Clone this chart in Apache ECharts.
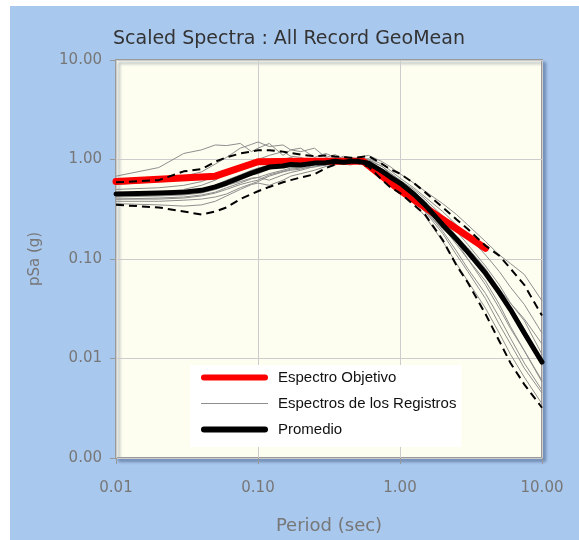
<!DOCTYPE html>
<html>
<head>
<meta charset="utf-8">
<script src="https://cdn.jsdelivr.net/npm/echarts@6/dist/echarts.min.js"></script>
<style>
  html, body { margin: 0; padding: 0; background: #ffffff; }
  #wrap { position: absolute; left: 10px; top: 6px; width: 569px; height: 534px; background: #A9C8EE; }
  #chart { width: 569px; height: 534px; }
</style>
</head>
<body>
<div id="wrap"><div id="chart"></div></div>
<script>
// Periods (sec) shared by the record spectra, mean and ±1 sigma curves
const periods = [0.01, 0.02, 0.03, 0.04, 0.05, 0.06, 0.075, 0.09, 0.1, 0.12, 0.15, 0.17, 0.2, 0.25, 0.3, 0.35, 0.4, 0.45, 0.5, 0.6, 0.75, 0.85, 1.0, 1.25, 1.5, 2.0, 2.5, 3.0, 4.0, 5.0, 6.0, 7.5, 10.0];

// Target spectrum (Espectro Objetivo)
const targetPeriods = [0.01, 0.05, 0.1, 0.2, 0.55, 1.0, 2.0, 4.0];
const targetSa = [0.60, 0.68, 0.95, 0.96, 0.96, 0.49, 0.25, 0.128];

// Geometric mean of the scaled records (Promedio)
const meanSa = [0.45, 0.46, 0.47, 0.49, 0.53, 0.58, 0.66, 0.73, 0.77, 0.84, 0.86, 0.89, 0.88, 0.92, 0.93, 0.96, 0.94, 0.96, 0.96, 0.92, 0.76, 0.67, 0.58, 0.45, 0.35, 0.22, 0.158, 0.118, 0.072, 0.046, 0.031, 0.018, 0.0092];

// Mean plus / minus one standard deviation
const upperSa = [0.59, 0.62, 0.76, 0.80, 0.95, 1.05, 1.15, 1.20, 1.24, 1.24, 1.20, 1.16, 1.12, 1.08, 1.10, 1.07, 1.06, 1.04, 1.05, 1.08, 0.90, 0.80, 0.72, 0.58, 0.47, 0.33, 0.25, 0.20, 0.136, 0.108, 0.080, 0.055, 0.027];
const lowerSa = [0.35, 0.33, 0.30, 0.28, 0.30, 0.33, 0.40, 0.45, 0.48, 0.53, 0.59, 0.62, 0.66, 0.71, 0.82, 0.89, 0.94, 0.95, 0.93, 0.85, 0.62, 0.53, 0.46, 0.35, 0.28, 0.155, 0.086, 0.058, 0.028, 0.015, 0.009, 0.0055, 0.0032];

// Individual scaled record spectra (Espectros de los Registros)
const rec01 = [0.68, 0.83, 1.15, 1.25, 1.40, 1.38, 1.45, 1.20, 1.30, 1.45, 1.10, 1.25, 1.30, 1.05, 1.15, 1.05, 0.95, 0.90, 1.00, 1.00, 0.85, 0.72, 0.62, 0.50, 0.40, 0.27, 0.19, 0.14, 0.085, 0.055, 0.036, 0.024, 0.011];
const rec02 = [0.56, 0.60, 0.68, 0.75, 0.90, 1.05, 1.30, 1.42, 1.50, 1.35, 1.40, 1.25, 1.20, 1.30, 1.05, 1.12, 1.00, 0.95, 1.05, 1.10, 0.95, 0.85, 0.72, 0.58, 0.48, 0.36, 0.28, 0.22, 0.15, 0.11, 0.09, 0.07, 0.038];
const rec03 = [0.45, 0.47, 0.50, 0.55, 0.62, 0.72, 0.85, 0.95, 1.00, 1.10, 1.20, 1.08, 1.05, 0.95, 0.90, 1.02, 1.00, 0.92, 0.98, 0.95, 0.80, 0.70, 0.60, 0.47, 0.38, 0.25, 0.17, 0.13, 0.08, 0.05, 0.033, 0.02, 0.0095];
const rec04 = [0.42, 0.43, 0.44, 0.46, 0.50, 0.55, 0.62, 0.70, 0.72, 0.80, 0.85, 0.90, 0.95, 1.00, 0.92, 0.88, 0.98, 1.05, 1.02, 0.98, 0.85, 0.74, 0.62, 0.45, 0.34, 0.21, 0.14, 0.10, 0.06, 0.035, 0.021, 0.012, 0.006];
const rec05 = [0.40, 0.41, 0.42, 0.44, 0.47, 0.52, 0.58, 0.64, 0.66, 0.72, 0.78, 0.82, 0.84, 0.90, 0.96, 0.90, 0.92, 0.98, 0.95, 0.92, 0.78, 0.66, 0.55, 0.40, 0.30, 0.18, 0.11, 0.075, 0.040, 0.022, 0.014, 0.008, 0.0045];
const rec06 = [0.38, 0.38, 0.39, 0.40, 0.42, 0.45, 0.52, 0.57, 0.60, 0.68, 0.75, 0.78, 0.80, 0.88, 1.00, 0.95, 1.05, 1.00, 0.98, 0.88, 0.70, 0.60, 0.50, 0.38, 0.30, 0.20, 0.15, 0.11, 0.07, 0.05, 0.036, 0.025, 0.014];
const rec07 = [0.46, 0.46, 0.47, 0.50, 0.55, 0.62, 0.70, 0.78, 0.82, 0.88, 0.90, 0.95, 0.88, 0.92, 0.88, 0.96, 0.90, 0.88, 0.95, 0.90, 0.72, 0.64, 0.56, 0.45, 0.36, 0.24, 0.16, 0.12, 0.075, 0.045, 0.029, 0.018, 0.0085];
const rec08 = [0.36, 0.35, 0.34, 0.35, 0.38, 0.43, 0.50, 0.56, 0.58, 0.55, 0.62, 0.68, 0.72, 0.78, 0.85, 0.90, 0.95, 0.90, 0.92, 0.88, 0.66, 0.56, 0.48, 0.36, 0.27, 0.15, 0.09, 0.060, 0.032, 0.018, 0.011, 0.0065, 0.0035];
const rec09 = [0.50, 0.52, 0.55, 0.60, 0.68, 0.75, 0.85, 0.90, 0.92, 0.95, 1.00, 1.05, 0.95, 1.02, 0.98, 1.08, 0.92, 1.00, 1.00, 1.02, 0.90, 0.78, 0.65, 0.52, 0.42, 0.30, 0.22, 0.17, 0.11, 0.075, 0.052, 0.035, 0.018];
const rec10 = [0.44, 0.44, 0.45, 0.47, 0.50, 0.55, 0.60, 0.65, 0.66, 0.62, 0.70, 0.74, 0.78, 0.85, 0.90, 1.00, 1.08, 0.98, 1.00, 0.95, 0.75, 0.64, 0.55, 0.42, 0.32, 0.19, 0.12, 0.08, 0.045, 0.026, 0.016, 0.009, 0.0048];
const rec11 = [0.40, 0.40, 0.41, 0.43, 0.46, 0.50, 0.56, 0.60, 0.62, 0.70, 0.76, 0.80, 0.82, 0.84, 0.88, 0.92, 0.95, 0.93, 0.96, 0.93, 0.80, 0.68, 0.57, 0.43, 0.33, 0.22, 0.15, 0.10, 0.055, 0.032, 0.020, 0.012, 0.0058];
const records = [rec01, rec02, rec03, rec04, rec05, rec06, rec07, rec08, rec09, rec10, rec11];

const NAME_TARGET = 'Espectro Objetivo';
const NAME_RECORDS = 'Espectros de los Registros';
const NAME_MEAN = 'Promedio';

const pairs = (xs, ys) => xs.map((x, i) => [x, ys[i]]);
const fmt2 = v => Number(v).toFixed(2);

// Legend keys: a thick bar with rounded ends and a hairline
const ICON_THICK = 'path://M3,0 H64 A3,3 0 0 1 64,6 H3 A3,3 0 0 1 3,0 Z';
const ICON_THIN = 'path://M0,0 H67 V1.2 H0 Z';

const series = [];
records.forEach(r => {
  series.push({
    name: NAME_RECORDS, type: 'line', data: pairs(periods, r),
    symbol: 'none', z: 2,
    lineStyle: { color: '#8E8E8E', width: 1 },
    itemStyle: { color: '#8E8E8E' }
  });
});
series.push({
  name: NAME_TARGET, type: 'line', data: pairs(targetPeriods, targetSa),
  symbol: 'none', z: 3,
  lineStyle: { color: '#FF0000', width: 7, cap: 'round', join: 'round' },
  itemStyle: { color: '#FF0000' }
});
series.push({
  name: 'Promedio + σ', type: 'line', data: pairs(periods, upperSa),
  symbol: 'none', z: 4,
  lineStyle: { color: '#000000', width: 2, type: [8, 5] }
});
series.push({
  name: 'Promedio - σ', type: 'line', data: pairs(periods, lowerSa),
  symbol: 'none', z: 4,
  lineStyle: { color: '#000000', width: 2, type: [8, 5] }
});
series.push({
  name: NAME_MEAN, type: 'line', data: pairs(periods, meanSa),
  symbol: 'none', z: 5,
  lineStyle: { color: '#000000', width: 5, cap: 'round', join: 'round' },
  itemStyle: { color: '#000000' }
});

const chart = echarts.init(document.getElementById('chart'), null, { renderer: 'canvas' });
chart.setOption({
  animation: false,
  backgroundColor: 'transparent',
  title: {
    text: 'Scaled Spectra : All Record GeoMean',
    left: 103, top: 24, padding: 0,
    textStyle: { fontFamily: 'DejaVu Sans', fontSize: 19, fontWeight: 'normal', color: '#333333' }
  },
  grid: {
    left: 106, top: 54, width: 426, height: 400,
    show: true, backgroundColor: '#FEFEF0',
    borderColor: '#9A9A9A', borderWidth: 2,
    shadowColor: 'rgba(40,60,100,0.35)', shadowBlur: 3, shadowOffsetX: 3, shadowOffsetY: 3
  },
  legend: {
    data: [
      { name: NAME_TARGET, icon: ICON_THICK, itemStyle: { color: '#FF0000', borderWidth: 0 } },
      { name: NAME_RECORDS, icon: ICON_THIN, itemStyle: { color: '#8E8E8E', borderWidth: 0 } },
      { name: NAME_MEAN, icon: ICON_THICK, itemStyle: { color: '#000000', borderWidth: 0 } }
    ],
    orient: 'vertical', left: 180, top: 359,
    backgroundColor: '#FFFFFF',
    padding: [5, 5, 10, 11],
    itemWidth: 67, itemHeight: 18, itemGap: 11,
    selectedMode: false,
    itemStyle: { borderWidth: 0 },
    lineStyle: { width: 0 },
    textStyle: { fontFamily: 'Liberation Sans', fontSize: 15, color: '#111111', padding: [0, 0, 0, 5] }
  },
  xAxis: {
    type: 'log', logBase: 10, min: 0.01, max: 10,
    name: 'Period (sec)', nameLocation: 'middle', nameGap: 59,
    nameTextStyle: { fontFamily: 'DejaVu Sans', fontSize: 18, color: '#777777' },
    axisLine: { show: false },
    axisTick: { show: true, length: 6, lineStyle: { color: '#999999' } },
    axisLabel: { formatter: fmt2, margin: 23, fontFamily: 'DejaVu Sans', fontSize: 15, color: '#777777' },
    splitLine: { show: true, lineStyle: { color: '#CCCCCC', width: 1 } },
    minorTick: { show: false }
  },
  yAxis: {
    type: 'log', logBase: 10, min: 0.001, max: 10,
    name: 'pSa (g)', nameLocation: 'middle', nameGap: 73,
    nameTextStyle: { fontFamily: 'DejaVu Sans', fontSize: 15, color: '#777777' },
    axisLine: { show: false },
    axisTick: { show: true, length: 6, lineStyle: { color: '#999999' } },
    axisLabel: { formatter: fmt2, margin: 14, fontFamily: 'DejaVu Sans', fontSize: 15, color: '#777777' },
    splitLine: { show: true, lineStyle: { color: '#CCCCCC', width: 1 } }
  },
  series: series
});
</script>
</body>
</html>
